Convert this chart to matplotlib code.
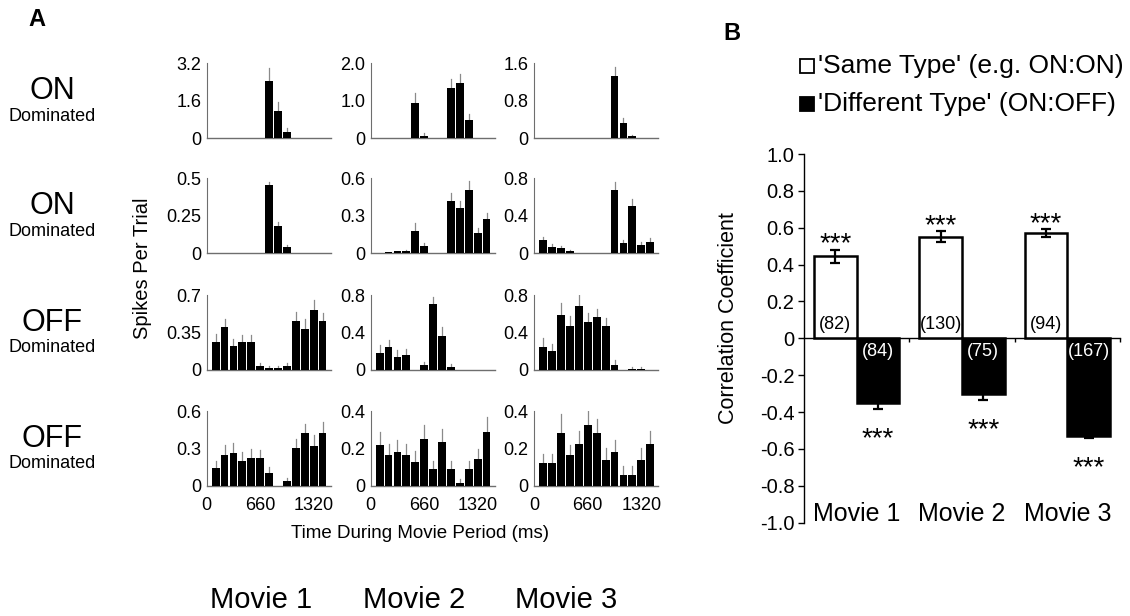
import numpy as np
import matplotlib
matplotlib.use("Agg")
import matplotlib.pyplot as plt
from matplotlib.patches import Rectangle

plt.rcParams["font.family"] = ["Liberation Sans", "DejaVu Sans"]

W, H = 1130, 616

# ---- panel A: spikes per trial, 13 bins of 110 ms ----
bin_ms = [110, 220, 330, 440, 550, 660, 770, 880, 990, 1100, 1210, 1320, 1430]
movies = ["Movie 1", "Movie 2", "Movie 3"]
row_types = ["ON", "ON", "OFF", "OFF"]

on1_m1 = [0, 0, 0, 0, 0, 0, 2.44, 1.15, 0.27, 0, 0, 0, 0]
on1_m1_err = [0, 0, 0, 0, 0, 0, 0.57, 0.38, 0.16, 0, 0, 0, 0]
on1_m2 = [0, 0, 0, 0, 0.93, 0.07, 0, 0, 1.33, 1.48, 0.48, 0, 0]
on1_m2_err = [0, 0, 0, 0, 0.27, 0.08, 0, 0, 0.24, 0.23, 0.16, 0, 0]
on1_m3 = [0, 0, 0, 0, 0, 0, 0, 0, 1.33, 0.32, 0.04, 0, 0]
on1_m3_err = [0, 0, 0, 0, 0, 0, 0, 0, 0.20, 0.12, 0.04, 0, 0]

on2_m1 = [0, 0, 0, 0, 0, 0, 0.456, 0.184, 0.042, 0, 0, 0, 0]
on2_m1_err = [0, 0, 0, 0, 0, 0, 0.022, 0.023, 0.014, 0, 0, 0, 0]
on2_m2 = [0.004, 0.010, 0.015, 0.022, 0.181, 0.062, 0.005, 0, 0.42, 0.365, 0.51, 0.165, 0.273]
on2_m2_err = [0, 0, 0.005, 0.005, 0.06, 0.024, 0, 0, 0.066, 0.05, 0.068, 0.035, 0.05]
on2_m3 = [0.14, 0.072, 0.054, 0.025, 0, 0, 0, 0, 0.674, 0.108, 0.502, 0.09, 0.118]
on2_m3_err = [0.036, 0.028, 0.025, 0.015, 0, 0, 0, 0, 0.089, 0.032, 0.082, 0.028, 0.043]

off1_m1 = [0.265, 0.40, 0.221, 0.265, 0.265, 0.04, 0.019, 0.019, 0.04, 0.461, 0.38, 0.56, 0.461]
off1_m1_err = [0.071, 0.077, 0.066, 0.059, 0.062, 0.03, 0.018, 0.018, 0.03, 0.078, 0.093, 0.094, 0.075]
off1_m2 = [0.178, 0.242, 0.142, 0.16, 0, 0.057, 0.70, 0.36, 0.036, 0, 0, 0, 0]
off1_m2_err = [0.085, 0.075, 0.068, 0.068, 0, 0.032, 0.083, 0.095, 0.024, 0, 0, 0, 0]
off1_m3 = [0.249, 0.205, 0.587, 0.468, 0.688, 0.508, 0.569, 0.468, 0.054, 0, 0.015, 0.015, 0]
off1_m3_err = [0.097, 0.072, 0.133, 0.105, 0.112, 0.101, 0.083, 0.087, 0.058, 0, 0.015, 0.015, 0]

off2_m1 = [0.142, 0.247, 0.266, 0.204, 0.223, 0.223, 0.102, 0, 0.04, 0.304, 0.425, 0.323, 0.425]
off2_m1_err = [0.062, 0.078, 0.075, 0.065, 0.073, 0.067, 0.048, 0, 0.025, 0.072, 0.075, 0.087, 0.085]
off2_m2 = [0.22, 0.165, 0.18, 0.165, 0.127, 0.251, 0.09, 0.235, 0.09, 0.018, 0.09, 0.143, 0.287]
off2_m2_err = [0.07, 0.059, 0.064, 0.059, 0.058, 0.075, 0.046, 0.068, 0.041, 0.018, 0.046, 0.054, 0.081]
off2_m3 = [0.122, 0.122, 0.285, 0.164, 0.224, 0.327, 0.284, 0.14, 0.184, 0.058, 0.058, 0.14, 0.224]
off2_m3_err = [0.051, 0.051, 0.10, 0.054, 0.067, 0.078, 0.074, 0.065, 0.063, 0.047, 0.047, 0.065, 0.072]

# y tick labels per panel (top, middle); bottom is always 0
yticks_on1 = [["3.2", "1.6"], ["2.0", "1.0"], ["1.6", "0.8"]]
yticks_on2 = [["0.5", "0.25"], ["0.6", "0.3"], ["0.8", "0.4"]]
yticks_off1 = [["0.7", "0.35"], ["0.8", "0.4"], ["0.8", "0.4"]]
yticks_off2 = [["0.6", "0.3"], ["0.4", "0.2"], ["0.4", "0.2"]]
xtick_ms = [0, 660, 1320]

# ---- panel B: correlation coefficients ----
same_r = [0.445, 0.55, 0.571]
same_err = [0.034, 0.03, 0.02]
same_n = [82, 130, 94]
diff_r = [-0.35, -0.30, -0.527]
diff_err = [0.034, 0.034, 0.013]
diff_n = [84, 75, 167]

grid = [
    [(on1_m1, on1_m1_err), (on1_m2, on1_m2_err), (on1_m3, on1_m3_err)],
    [(on2_m1, on2_m1_err), (on2_m2, on2_m2_err), (on2_m3, on2_m3_err)],
    [(off1_m1, off1_m1_err), (off1_m2, off1_m2_err), (off1_m3, off1_m3_err)],
    [(off2_m1, off2_m1_err), (off2_m2, off2_m2_err), (off2_m3, off2_m3_err)],
]
ytl = [yticks_on1, yticks_on2, yticks_off1, yticks_off2]

fig = plt.figure(figsize=(W / 100, H / 100), dpi=100)
fig.patch.set_facecolor("white")


def px_axes(x0, ytop, w, h):
    return fig.add_axes([x0 / W, 1 - (ytop + h) / H, w / W, h / H])


def ftext(x, y, s, **kw):
    fig.text(x / W, 1 - y / H, s, **kw)


def fsquare(x, ytop, size, fill):
    fig.add_artist(Rectangle((x / W, 1 - (ytop + size) / H), size / W, size / H,
                             transform=fig.transFigure, fc=fill, ec="black", lw=1.3))


col_x = [206.7, 370.7, 534.3]
row_bottom = [138.3, 253.3, 370.0, 486.0]
ax_w, ax_h = 124, 75
SPINE = "#6e6e6e"

for r in range(4):
    for c in range(3):
        vals, errs = grid[r][c]
        top_lbl, mid_lbl = ytl[r][c]
        ymax = float(top_lbl)
        ax = px_axes(col_x[c], row_bottom[r] - ax_h, ax_w, ax_h)
        ax.bar(bin_ms, vals, width=96, color="black", zorder=3)
        for xb, v, e in zip(bin_ms, vals, errs):
            if e > 0:
                ax.plot([xb, xb], [v, v + e], color="#8a8a8a", lw=0.9, zorder=2)
        ax.set_xlim(0, 1530)
        ax.set_ylim(0, ymax)
        for s in ("top", "right"):
            ax.spines[s].set_visible(False)
        ax.spines["left"].set_color(SPINE)
        ax.spines["bottom"].set_color(SPINE)
        ax.spines["left"].set_linewidth(0.8)
        ax.spines["bottom"].set_linewidth(1.0)
        ax.set_yticks([0, ymax / 2, ymax])
        ax.set_yticklabels(["0", mid_lbl, top_lbl])
        ax.tick_params(axis="y", length=0, pad=4, labelsize=13)
        ax.tick_params(axis="x", length=0, pad=8, labelsize=13)
        if r == 3:
            ax.set_xticks(xtick_ms)
            ax.set_xticklabels([str(t) for t in xtick_ms])
        else:
            ax.set_xticks([])
        ax.patch.set_alpha(0)

# row labels
for r, kind in enumerate(row_types):
    yb = row_bottom[r]
    ftext(52, yb - 47, kind, fontsize=22, ha="center", va="center")
    ftext(52, yb - 22, "Dominated", fontsize=13, ha="center", va="center")

ftext(37, 20, "A", fontsize=17, fontweight="bold", ha="center", va="center")
ftext(143, 268, "Spikes Per Trial", fontsize=14.5, rotation=90, ha="center", va="center")
ftext(420, 533, "Time During Movie Period (ms)", fontsize=13.5, ha="center", va="center")
for m, xc in zip(movies, [261, 414, 566]):
    ftext(xc, 600, m, fontsize=21, ha="center", va="center")

# ---- panel B ----
axb = px_axes(804, 154, 316, 368.7)
gx = np.arange(3)
bw = 0.405
axb.bar(gx + 0.5 - bw / 2, same_r, width=bw, color="white", edgecolor="black", lw=1.8, zorder=3)
axb.bar(gx + 0.5 + bw / 2, diff_r, width=bw, color="black", edgecolor="black", lw=1.8, zorder=3)
axb.errorbar(gx + 0.5 - bw / 2, same_r, yerr=same_err, fmt="none", ecolor="black",
             elinewidth=1.6, capsize=3.5, capthick=1.6, zorder=4)
axb.errorbar(gx + 0.5 + bw / 2, diff_r, yerr=diff_err, fmt="none", ecolor="black",
             elinewidth=1.6, capsize=3.5, capthick=1.6, zorder=2)
for i in range(3):
    xs = gx[i] + 0.5 - bw / 2
    xd = gx[i] + 0.5 + bw / 2
    axb.annotate("***", (xs, same_r[i] + same_err[i]), xytext=(0, -1), textcoords="offset points",
                 ha="center", va="baseline", fontsize=20)
    axb.annotate("***", (xd, diff_r[i] - diff_err[i]), xytext=(0, -27), textcoords="offset points",
                 ha="center", va="baseline", fontsize=20)
    axb.text(xs, 0.076, f"({same_n[i]})", ha="center", va="center", fontsize=13, zorder=5)
    axb.text(xd, -0.069, f"({diff_n[i]})", ha="center", va="center", fontsize=13,
             color="white", zorder=5)
    axb.text(gx[i] + 0.5, -0.953, movies[i], ha="center", va="center", fontsize=18)

axb.set_xlim(0, 3)
axb.set_ylim(-1.0, 1.0)
axb.spines["top"].set_visible(False)
axb.spines["right"].set_visible(False)
axb.spines["bottom"].set_position(("data", 0))
axb.spines["left"].set_linewidth(1.0)
axb.spines["bottom"].set_linewidth(1.0)
yt = np.arange(-1.0, 1.01, 0.2)
axb.set_yticks(yt)
axb.set_yticklabels([("%.1f" % v) if abs(v) > 1e-9 else "0" for v in yt])
axb.set_xticks([1, 2, 3])
axb.set_xticklabels([])
axb.tick_params(axis="y", length=4, width=1, labelsize=14.5, pad=3)
axb.tick_params(axis="x", length=3, width=1, direction="out")
ftext(729, 318, "Correlation Coefficient", fontsize=15.5, rotation=90, ha="center", va="center")

ftext(732, 33, "B", fontsize=17, fontweight="bold", ha="center", va="center")
fsquare(800, 59, 14, "white")
fsquare(800, 97, 14, "black")
ftext(818, 66, "'Same Type' (e.g. ON:ON)", fontsize=19, ha="left", va="center")
ftext(818, 104, "'Different Type' (ON:OFF)", fontsize=19, ha="left", va="center")

fig.savefig("out.png", dpi=100, facecolor="white")
